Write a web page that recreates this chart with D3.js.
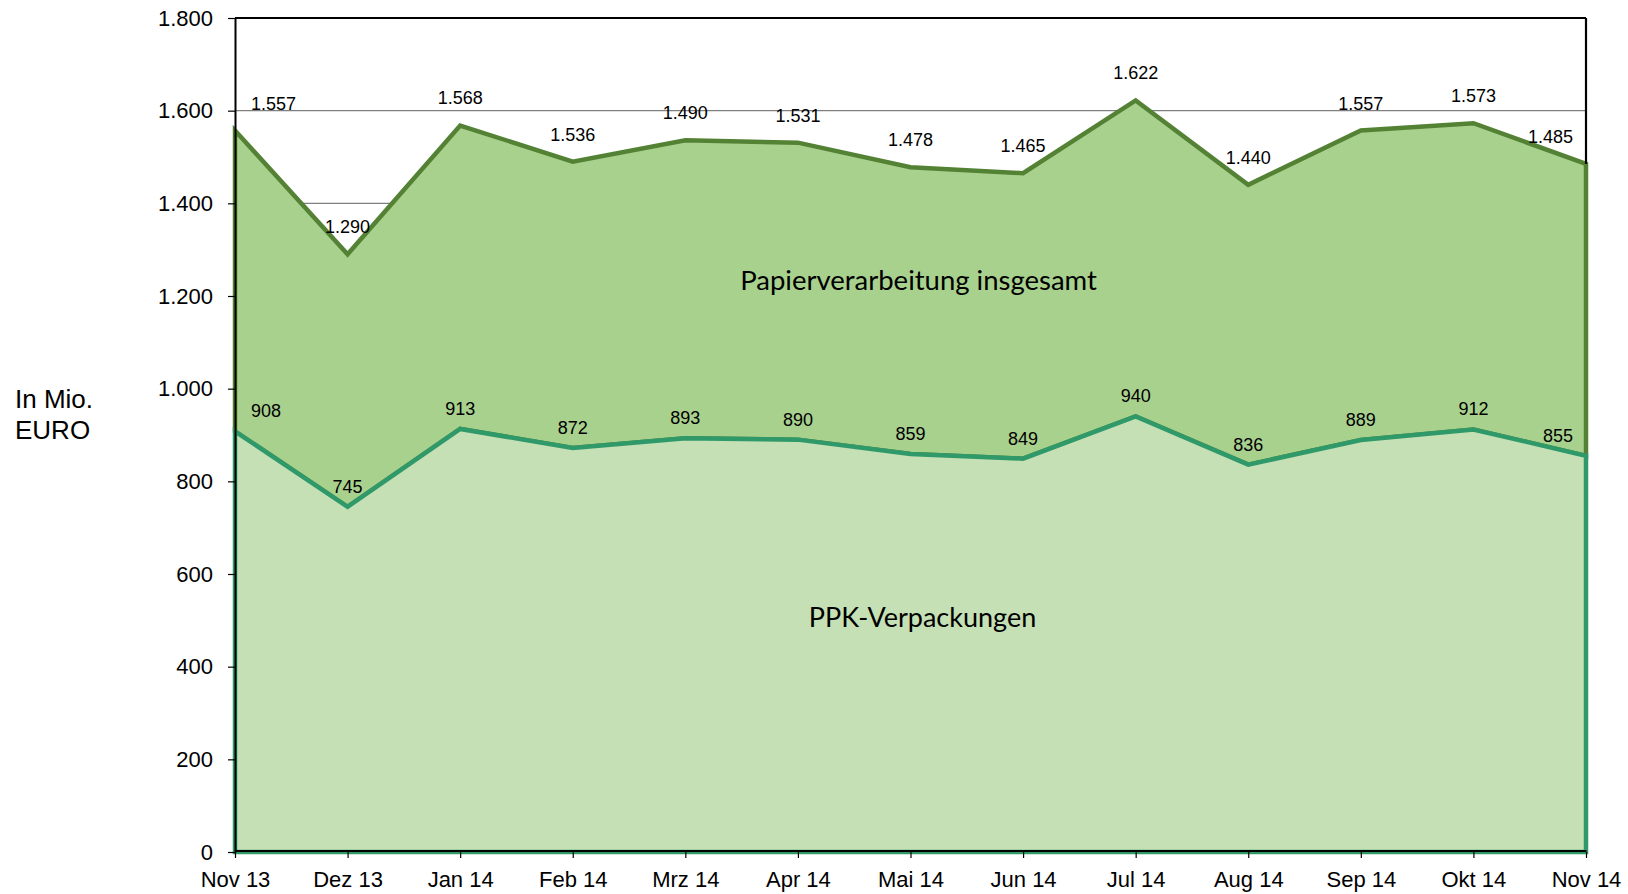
<!DOCTYPE html>
<html>
<head>
<meta charset="utf-8">
<script src="https://cdn.jsdelivr.net/npm/d3@7"></script>
<style>
  html, body { margin: 0; padding: 0; background: #ffffff; }
  svg { display: block; }
</style>
</head>
<body>
<svg id="chart" width="1628" height="894"></svg>
<script>
// ---------- DATA ----------
const categories = ["Nov 13","Dez 13","Jan 14","Feb 14","Mrz 14","Apr 14","Mai 14","Jun 14","Jul 14","Aug 14","Sep 14","Okt 14","Nov 14"];
const totalValues = [1557,1290,1568,1490,1536,1531,1478,1465,1622,1440,1557,1573,1485];
const totalLabels = ["1.557","1.290","1.568","1.536","1.490","1.531","1.478","1.465","1.622","1.440","1.557","1.573","1.485"];
const ppkValues = [908,745,913,872,893,890,859,849,940,836,889,912,855];
const ppkLabels = ["908","745","913","872","893","890","859","849","940","836","889","912","855"];
const yTicks = [0,200,400,600,800,1000,1200,1400,1600,1800];
const yTickLabels = ["0","200","400","600","800","1.000","1.200","1.400","1.600","1.800"];
const seriesNames = ["Papierverarbeitung insgesamt","PPK-Verpackungen"];
const axisTitle = ["In Mio.","EURO"];

// ---------- LAYOUT ----------
const W = 1628, H = 894;
const m = { left: 235, right: 1586, top: 18, bottom: 852 };
const svg = d3.select("#chart");
const x = d3.scalePoint().domain(categories).range([m.left, m.right]);
const y = d3.scaleLinear().domain([0, 1800]).range([m.bottom, m.top]);

const colUpperFill = "#a9d18e", colUpperLine = "#548235";
const colLowerFill = "#c5e0b4", colLowerLine = "#30996a";
const axisFont = "Liberation Sans, Arial, sans-serif";

// gridlines
svg.append("g").selectAll("line").data(yTicks.filter(t => t > 0 && t < 1800)).join("line")
  .attr("x1", m.left).attr("x2", m.right)
  .attr("y1", d => y(d)).attr("y2", d => y(d))
  .attr("stroke", "#7f7f7f").attr("stroke-width", 1.2);

// upper (stacked) area between ppk and total
const idx = d3.range(categories.length);
const upperArea = d3.area()
  .x(i => x(categories[i]))
  .y0(i => y(ppkValues[i]))
  .y1(i => y(totalValues[i]));
svg.append("path").datum(idx).attr("d", upperArea)
  .attr("fill", colUpperFill).attr("stroke", colUpperLine)
  .attr("stroke-width", 4.5).attr("stroke-linejoin", "miter");

// lower area from 0 to ppk
const lowerArea = d3.area()
  .x(i => x(categories[i]))
  .y0(() => y(0))
  .y1(i => y(ppkValues[i]));
svg.append("path").datum(idx).attr("d", lowerArea)
  .attr("fill", colLowerFill).attr("stroke", colLowerLine)
  .attr("stroke-width", 4.5).attr("stroke-linejoin", "miter");

// plot border top & right
svg.append("line").attr("x1", m.left).attr("x2", m.right).attr("y1", m.top).attr("y2", m.top)
  .attr("stroke", "#000").attr("stroke-width", 2.2);
svg.append("line").attr("x1", m.right).attr("x2", m.right).attr("y1", m.top).attr("y2", y(totalValues[totalValues.length-1]))
  .attr("stroke", "#000").attr("stroke-width", 2.2);

// y axis
const yAxis = d3.axisLeft(y).tickValues(yTicks)
  .tickFormat((d, i) => yTickLabels[i]).tickSize(7).tickSizeOuter(0).tickPadding(15);
const gy = svg.append("g").attr("transform", `translate(${m.left},0)`).call(yAxis);
gy.select(".domain").attr("stroke", "#000").attr("stroke-width", 2);
gy.selectAll(".tick line").attr("stroke", "#000").attr("stroke-width", 1.2);
gy.selectAll("text").attr("font-family", axisFont).attr("font-size", 22).attr("fill", "#000");

// x axis
const xAxis = d3.axisBottom(x).tickSize(6).tickSizeOuter(0).tickPadding(13);
const gx = svg.append("g").attr("transform", `translate(0,${m.bottom})`).call(xAxis);
gx.select(".domain").attr("stroke", "#000").attr("stroke-width", 2).attr("transform", "translate(0,-1.5)");
gx.selectAll(".tick line").attr("stroke", "#000").attr("stroke-width", 1.2);
gx.selectAll("text").attr("font-family", axisFont).attr("font-size", 22).attr("fill", "#000");

// data labels
function addLabels(values, labels, offset) {
  const g = svg.append("g");
  g.selectAll("text").data(idx).join("text")
    .attr("font-family", axisFont).attr("font-size", 18).attr("fill", "#000")
    .attr("text-anchor", "middle")
    .attr("y", i => y(values[i]) + offset)
    .text(i => labels[i])
    .each(function(i) {
      const w = this.getComputedTextLength();
      let cx = x(categories[i]);
      cx = Math.max(cx, m.left + 16 + w / 2);
      cx = Math.min(cx, m.right - 13 - w / 2);
      d3.select(this).attr("x", cx);
    });
}
addLabels(totalValues, totalLabels, -21);
addLabels(ppkValues, ppkLabels, -14);

// series name labels
const midX = (m.left + m.right) / 2;
svg.append("text").attr("x", midX + 8).attr("y", 290)
  .attr("text-anchor", "middle").attr("font-family", "Lato, Open Sans, sans-serif")
  .attr("font-size", 27.5).attr("fill", "#000").text(seriesNames[0]);
svg.append("text").attr("x", midX + 12).attr("y", 627)
  .attr("text-anchor", "middle").attr("font-family", "Lato, Open Sans, sans-serif")
  .attr("font-size", 27).attr("fill", "#000").text(seriesNames[1]);

// axis title
svg.append("g").selectAll("text").data(axisTitle).join("text")
  .attr("x", 15).attr("y", (d, i) => 408 + i * 31)
  .attr("font-family", axisFont).attr("font-size", 26).attr("fill", "#000")
  .text(d => d);
</script>
</body>
</html>
